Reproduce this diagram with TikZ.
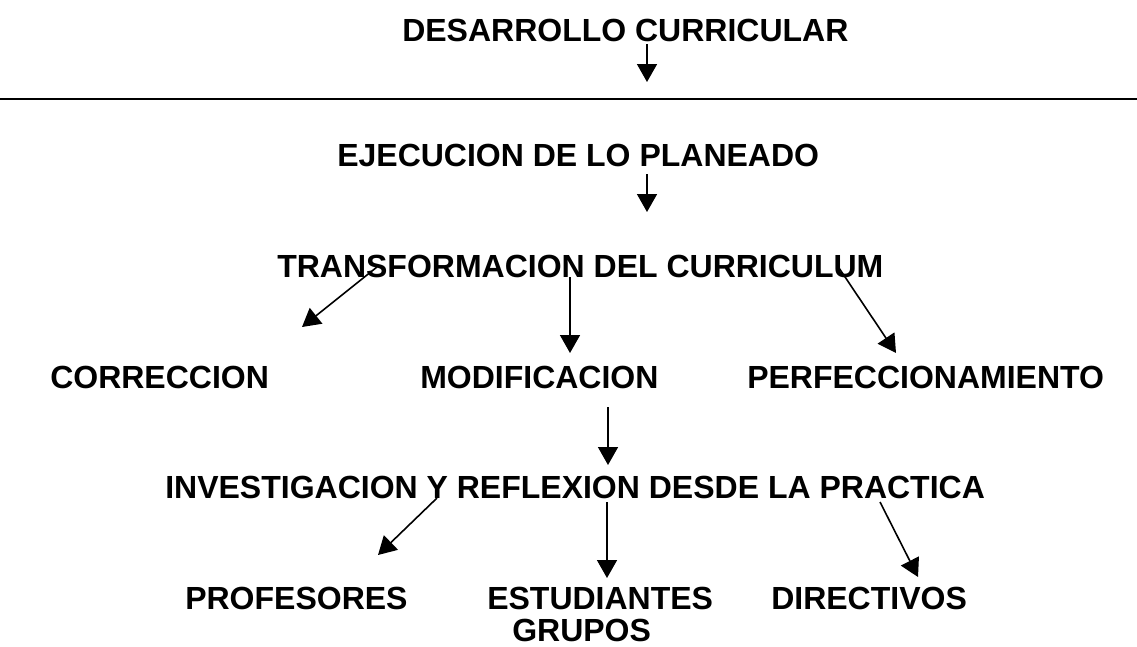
\documentclass[tikz,border=0pt]{standalone}
\usepackage{fontspec}
\setmainfont{Liberation Sans}
\usetikzlibrary{arrows.meta}
\begin{document}
\begin{tikzpicture}[x=0.75pt,y=-0.75pt,
  lbl/.style={font=\fontsize{24}{28}\selectfont\bfseries, inner sep=0pt, anchor=base west},
  conn/.style={line width=1.2pt, -{Triangle[length=13.5pt,width=15pt]}}]
\useasboundingbox (0,0) rectangle (1137,646);
\node[lbl] (des) at (402,41) {DESARROLLO CURRICULAR};
\node[lbl] (eje) at (337,166) {EJECUCION DE LO PLANEADO};
\node[lbl] (tra) at (277,277) {TRANSFORMACION DEL CURRICULUM};
\node[lbl] (cor) at (50,388) {CORRECCION};
\node[lbl] (mod) at (420,388) {MODIFICACION};
\node[lbl] (per) at (747,388) {PERFECCIONAMIENTO};
\node[lbl] (inv) at (165,498) {INVESTIGACION Y REFLEXION DESDE LA PRACTICA};
\node[lbl] (pro) at (185,609) {PROFESORES};
\node[lbl] (est) at (487,609) {ESTUDIANTES};
\node[lbl] (gru) at (512,641) {GRUPOS};
\node[lbl] (dir) at (771,609) {DIRECTIVOS};
\coordinate (l1) at (0,99);
\coordinate (l2) at (1137,99);
\draw[line width=1.8pt] (l1) -- (l2);
\coordinate (a1s) at (647,44); \coordinate (a1e) at (647,82);
\coordinate (a2s) at (647,174); \coordinate (a2e) at (647,212);
\coordinate (a3s) at (377,267); \coordinate (a3e) at (302,327);
\coordinate (a4s) at (570,277); \coordinate (a4e) at (570,353);
\coordinate (a5s) at (839,268); \coordinate (a5e) at (896,353);
\coordinate (a6s) at (608,407); \coordinate (a6e) at (608,465);
\coordinate (a7s) at (437,498); \coordinate (a7e) at (378,555);
\coordinate (a8s) at (607,502); \coordinate (a8e) at (607,578);
\coordinate (a9s) at (880,502); \coordinate (a9e) at (918,577);
\foreach \a in {1,...,9} \draw[conn] (a\a s) -- (a\a e);
\end{tikzpicture}
\end{document}
